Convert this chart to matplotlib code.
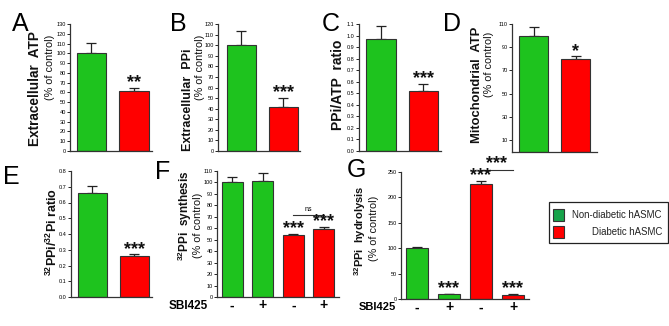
import matplotlib
matplotlib.use('Agg')
import matplotlib.pyplot as plt
from matplotlib.patches import Rectangle

plt.rcParams['font.family'] = ['Liberation Sans', 'DejaVu Sans']
plt.rcParams['mathtext.fontset'] = 'custom'
plt.rcParams['mathtext.rm'] = 'Liberation Sans'
plt.rcParams['mathtext.bf'] = 'Liberation Sans:bold'

# data
groups = ['Non-diabetic hASMC', 'Diabetic hASMC']
sbi_labels = ['-', '+', '-', '+']

a_vals, a_err = [100, 61], [11, 3]
b_vals, b_err = [100, 42], [13, 8]
c_vals, c_err = [0.97, 0.52], [0.11, 0.06]
d_vals, d_err = [100, 80], [7, 2]
e_vals, e_err = [0.66, 0.26], [0.045, 0.012]
f_vals, f_err = [100, 101, 54, 59], [5, 7, 1, 2]
g_vals, g_err = [100, 9, 226, 8], [3, 1, 7, 1]

GREEN = '#1ec31e'
RED = '#ff0000'
W, H = 669, 326

fig = plt.figure(figsize=(W / 100, H / 100), dpi=100)


def px_axes(x0, x1, y0, y1):
    # pixel box (top-left origin) -> figure axes
    return fig.add_axes([x0 / W, 1 - y1 / H, (x1 - x0) / W, (y1 - y0) / H])


def style(ax, ylim, ticks, ticklabels=None):
    ax.set_ylim(*ylim)
    ax.set_yticks(ticks)
    if ticklabels is not None:
        ax.set_yticklabels(ticklabels)
    for s in ['top', 'right']:
        ax.spines[s].set_visible(False)
    for s in ['left', 'bottom']:
        ax.spines[s].set_linewidth(0.9)
        ax.spines[s].set_color('#333333')
    ax.tick_params(axis='y', labelsize=4, length=2, width=0.6, pad=1)
    ax.tick_params(axis='x', length=0)


def bars(ax, vals, errs, colors, width=0.69):
    x = list(range(len(vals)))
    ax.bar(x, vals, width=width, color=colors, edgecolor='#333333', linewidth=0.8, zorder=2)
    ax.errorbar(x, vals, yerr=[[0] * len(errs), errs], fmt='none', ecolor='#222222',
                elinewidth=0.9, capsize=3.5, capthick=0.9, zorder=1)
    return x


def stars(ax, x, y, s, size=13):
    ax.text(x, y, s, ha='center', va='bottom', fontsize=size, fontweight='bold',
            color='#111111', clip_on=False)


def ylab(x, y, s, bold=True, size=9.5):
    fig.text(x / W, 1 - y / H, s, rotation=90, ha='center', va='center',
             fontsize=size, fontweight='bold' if bold else 'normal', color='#111111')


def letter(x, y, s):
    fig.text(x / W, 1 - y / H, s, ha='left', va='top', fontsize=18)


SUB = 7.8

# Panel A
ax = px_axes(70, 152, 24, 151)
x = bars(ax, a_vals, a_err, [GREEN, RED])
ax.set_xlim(-0.5, 1.42)
style(ax, (0, 130), range(0, 131, 10))
ax.set_xticks([])
stars(ax, x[1], a_vals[1] + a_err[1] - 3, '**')
letter(12, 12, 'A')
ylab(35, 89, 'Extracellular  ATP', size=9.8)
ylab(50, 67, '(% of control)', bold=False, size=SUB)

# Panel B
ax = px_axes(218, 300, 24, 151)
x = bars(ax, b_vals, b_err, [GREEN, RED])
ax.set_xlim(-0.56, 1.4)
style(ax, (0, 120), range(0, 121, 10))
ax.set_xticks([])
stars(ax, x[1], b_vals[1] + b_err[1] - 3, '***')
letter(170, 12, 'B')
ylab(188, 100, 'Extracellular  PPi', size=9)
ylab(200, 67, '(% of control)', bold=False, size=SUB)

# Panel C
ax = px_axes(359, 441, 24, 151)
x = bars(ax, c_vals, c_err, [GREEN, RED])
ax.set_xlim(-0.52, 1.42)
style(ax, (0, 1.1), [i / 10 for i in range(12)], ['%.1f' % (i / 10) for i in range(12)])
ax.set_xticks([])
stars(ax, x[1], c_vals[1] + c_err[1] - 0.03, '***')
letter(322, 12, 'C')
ylab(338, 85, 'PPi/ATP  ratio', size=10)

# Panel D
ax = px_axes(512, 597, 24, 151.5)
x = bars(ax, d_vals, d_err, [GREEN, RED])
ax.set_xlim(-0.51, 1.5)
style(ax, (0, 110), range(10, 111, 20))
ax.set_xticks([])
stars(ax, x[1], d_vals[1] + d_err[1] - 3, '*')
letter(443, 12, 'D')
ylab(477, 85, 'Mitochondrial  ATP', size=9.4)
ylab(489, 64, '(% of control)', bold=False, size=SUB)

# Panel E
ax = px_axes(71, 152, 171, 297)
x = bars(ax, e_vals, e_err, [GREEN, RED])
ax.set_xlim(-0.51, 1.42)
style(ax, (0, 0.8), [i / 10 for i in range(9)], ['%.1f' % (i / 10) for i in range(9)])
ax.set_xticks([])
stars(ax, x[1], e_vals[1] + e_err[1] - 0.025, '***')
letter(3, 165, 'E')
ylab(52, 232, r'$^{\mathbf{32}}$PPi/$^{\mathbf{32}}$Pi ratio', size=9)

# Panel F
ax = px_axes(217, 339, 171, 297)
x = bars(ax, f_vals, f_err, [GREEN, GREEN, RED, RED], width=0.69)
ax.set_xlim(-0.5, 3.5)
style(ax, (0, 110), range(0, 111, 10))
ax.set_xticks(x)
ax.set_xticklabels(sbi_labels, fontsize=10, fontweight='bold')
ax.tick_params(axis='x', pad=1)
stars(ax, x[2], f_vals[2] + f_err[2] - 3, '***')
stars(ax, x[3], f_vals[3] + f_err[3] - 3, '***')
ax.plot([x[2], x[3]], [72, 72], color='#333333', lw=0.8, clip_on=False)
ax.text((x[2] + x[3]) / 2, 73, 'ns', ha='center', va='bottom', fontsize=5)
letter(155, 160, 'F')
ylab(185, 216, r'$^{\mathbf{32}}$PPi  synthesis', size=8.5)
ylab(198, 225, '(% of control)', bold=False, size=SUB)
fig.text(188 / W, 1 - 306 / H, 'SBI425', ha='center', va='center', fontsize=8.5, fontweight='bold')

# Panel G
ax = px_axes(401, 529, 172, 299)
x = bars(ax, g_vals, g_err, [GREEN, GREEN, RED, RED], width=0.69)
ax.set_xlim(-0.5, 3.5)
style(ax, (0, 250), range(0, 251, 50))
ax.set_xticks(x)
ax.set_xticklabels(sbi_labels, fontsize=10, fontweight='bold')
ax.tick_params(axis='x', pad=1)
for i in [1, 2, 3]:
    stars(ax, x[i], g_vals[i] + g_err[i] - 6, '***')
ax.plot([x[2], x[3]], [254, 254], color='#333333', lw=0.8, clip_on=False)
stars(ax, (x[2] + x[3]) / 2, 250, '***')
letter(347, 158, 'G')
ylab(360, 231, r'$^{\mathbf{32}}$PPi  hydrolysis', size=8)
ylab(374, 228, '(% of control)', bold=False, size=SUB)
fig.text(377 / W, 1 - 307 / H, 'SBI425', ha='center', va='center', fontsize=8, fontweight='bold')

# legend
fig.patches.append(Rectangle((549 / W, 1 - 243 / H), 119 / W, 41 / H, transform=fig.transFigure,
                             facecolor='white', edgecolor='#222222', linewidth=0.9))
for (yy, c, name) in [(215, '#17a34a', groups[0]), (232, RED, groups[1])]:
    fig.patches.append(Rectangle((553 / W, 1 - (yy + 6) / H), 11 / W, 12 / H, transform=fig.transFigure,
                                 facecolor=c, edgecolor='#333333', linewidth=0.8))
    fig.text(662 / W, 1 - yy / H, name, ha='right', va='center', fontsize=6.9, color='#222222')

fig.savefig('out.png', dpi=100)
